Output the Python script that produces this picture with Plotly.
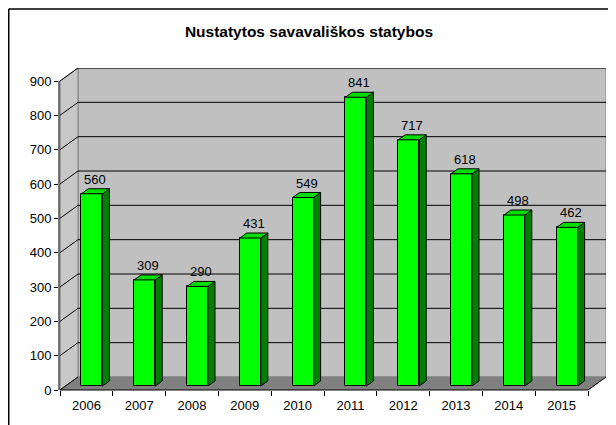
import plotly.graph_objects as go

# ---- data ----
years = ["2006", "2007", "2008", "2009", "2010", "2011", "2012", "2013", "2014", "2015"]
values = [560, 309, 290, 431, 549, 841, 717, 618, 498, 462]
y_ticks = [0, 100, 200, 300, 400, 500, 600, 700, 800, 900]
title_text = "Nustatytos savavališkos statybos"

# ---- geometry (page body has an 8px margin) ----
W, H = 608, 417
L, R, T, B = 51, 10, 60, 35
px_per_cat = 52.8
px_per_unit = 309 / 900.0
x0 = -0.5 - 1 / px_per_cat
x1 = x0 + (W - L - R) / px_per_cat
y1 = (H - T - B) / px_per_unit

def cx(px):
    return px / px_per_cat

def cy(px):
    return px / px_per_unit

wall_dx, wall_dy = cx(18), cy(13)
bar_dx, bar_dy = cx(5.5), cy(4)
side_dx, side_dy = cx(7), cy(5)
bar_w = cx(21)
n = len(years)
xs = list(range(n))
vmax = y_ticks[-1]

FONT = "Liberation Sans, Arial, sans-serif"
shapes = []

def poly(pts, fill, line_color=None, lw=1, layer="below"):
    d = "M " + " L ".join(f"{a},{b}" for a, b in pts) + " Z"
    return dict(type="path", path=d, xref="x", yref="y", fillcolor=fill,
                line=dict(color=line_color or fill, width=lw if line_color else 0), layer=layer)

# back wall
shapes.append(poly([(-0.5 + wall_dx, wall_dy), (x1, wall_dy), (x1, vmax + wall_dy), (-0.5 + wall_dx, vmax + wall_dy)],
                   "#C0C0C0", "#808080"))
# left wall
shapes.append(poly([(-0.5, 0), (-0.5, vmax), (-0.5 + wall_dx, vmax + wall_dy), (-0.5 + wall_dx, wall_dy)],
                   "#C8C8C8", "#808080"))
# floor
shapes.append(poly([(-0.5, 0), (n - 0.5, 0), (n - 0.5 + wall_dx, wall_dy), (-0.5 + wall_dx, wall_dy)],
                   "#808080", "#808080"))
# gridlines
for v in y_ticks[1:]:
    shapes.append(dict(type="line", xref="x", yref="y", x0=-0.5 + wall_dx, x1=x1, y0=v + wall_dy, y1=v + wall_dy,
                       line=dict(color="#000000", width=1), layer="below"))
    shapes.append(dict(type="line", xref="x", yref="y", x0=-0.5, x1=-0.5 + wall_dx, y0=v, y1=v + wall_dy,
                       line=dict(color="#000000", width=1), layer="below"))
# right edge of back wall
shapes.append(dict(type="line", xref="paper", yref="y", x0=0.999, x1=0.999, y0=wall_dy, y1=vmax + wall_dy,
                   line=dict(color="#909090", width=1), layer="below"))
# floor diagonals
shapes.append(dict(type="line", xref="x", yref="y", x0=n - 0.5, x1=n - 0.5 + wall_dx, y0=0, y1=wall_dy,
                   line=dict(color="#000000", width=1)))
shapes.append(dict(type="line", xref="x", yref="y", x0=-0.5, x1=-0.5 + wall_dx, y0=0, y1=wall_dy,
                   line=dict(color="#000000", width=1)))
# axis lines
shapes.append(dict(type="line", xref="x", yref="paper", x0=-0.5, x1=n - 0.5, y0=0, y1=0,
                   line=dict(color="#000000", width=1)))
shapes.append(dict(type="line", xref="paper", yref="y", x0=0, x1=0, y0=0, y1=vmax,
                   line=dict(color="#000000", width=1)))

# bar 3D faces + labels
annotations = []
for i, v in zip(xs, values):
    xl = i + bar_dx - bar_w / 2
    xr = i + bar_dx + bar_w / 2
    yb = bar_dy
    yt = v + bar_dy
    shapes.append(poly([(xr, yb), (xr, yt), (xr + side_dx, yt + side_dy), (xr + side_dx, yb + side_dy)],
                       "#008000", "#000000", 1, layer="above"))
    shapes.append(poly([(xl, yt), (xr, yt), (xr + side_dx, yt + side_dy), (xl + side_dx, yt + side_dy)],
                       "#00DD00", "#000000", 1, layer="above"))
    annotations.append(dict(x=i + bar_dx + side_dx / 2, y=yt + side_dy, xref="x", yref="y",
                            text=str(v), showarrow=False, yanchor="bottom", yshift=0,
                            font=dict(family=FONT, size=13, color="#000000")))

# outer frame (top and left edges)
pw, ph = W - L - R, H - T - B
fx = (0.75 - L) / pw
fy_top = 1 + (T - 1) / ph
shapes.append(dict(type="line", xref="paper", yref="paper", x0=fx, x1=1 + R / pw, y0=fy_top, y1=fy_top,
                   line=dict(color="#000000", width=1.5)))
shapes.append(dict(type="line", xref="paper", yref="paper", x0=fx, x1=fx, y0=fy_top, y1=-B / ph,
                   line=dict(color="#000000", width=1.5)))

fig = go.Figure()
fig.add_trace(go.Bar(
    x=xs, y=values, base=[bar_dy] * n, width=bar_w, offset=bar_dx - bar_w / 2,
    marker=dict(color="#00FF00", line=dict(color="#000000", width=1)),
    hoverinfo="skip", showlegend=False,
))

fig.update_layout(
    width=W, height=H,
    margin=dict(l=L, r=R, t=T, b=B, pad=0),
    paper_bgcolor="#FFFFFF", plot_bgcolor="#FFFFFF",
    font=dict(family=FONT, size=13, color="#000000"),
    title=dict(text="<b>" + title_text + "</b>", x=0.495, xref="container", xanchor="center",
               y=1 - 24 / H, yanchor="middle", font=dict(family=FONT, size=15.5, color="#000000")),
    shapes=shapes, annotations=annotations, bargap=0,
    showlegend=False,
)
fig.update_xaxes(
    range=[x0, x1], tickmode="array", tickvals=xs, ticktext=years, ticks="",
    showgrid=False, zeroline=False, showline=False, ticklabelstandoff=6,
    minor=dict(tickmode="array", tickvals=[i - 0.5 for i in range(n + 1)], ticks="outside",
               ticklen=5, tickcolor="#000000", showgrid=False),
    tickfont=dict(family=FONT, size=13, color="#000000"),
)
fig.update_yaxes(
    range=[0, y1], tickmode="array", tickvals=y_ticks, ticks="outside", ticklen=4, tickcolor="#000000",
    showgrid=False, zeroline=False, showline=False,
    tickfont=dict(family=FONT, size=13, color="#000000"),
)

fig.write_html("out.html")
